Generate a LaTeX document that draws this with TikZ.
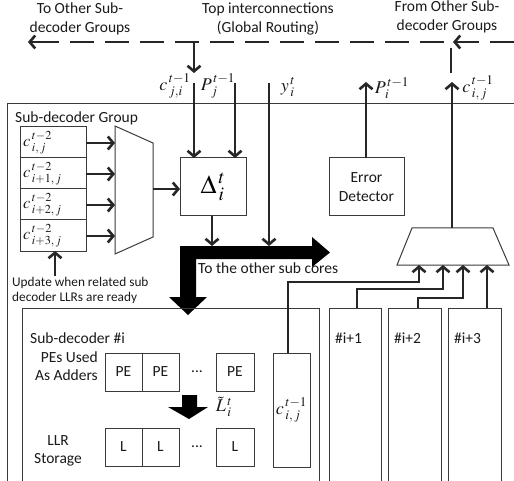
\documentclass[tikz,border=0pt]{standalone}
\usepackage{mathptmx}
\usepackage{fontspec}
\setmainfont{Carlito}
\usetikzlibrary{arrows.meta}
\definecolor{boxc}{HTML}{3A3A3A}
\definecolor{wirec}{HTML}{262626}
\definecolor{txtc}{HTML}{1A1A1A}
\begin{document}
\begin{tikzpicture}[x=1pt,y=-1pt,
  box/.style={draw=boxc, line width=1pt, inner sep=0pt, outer sep=0pt, anchor=north west},
  frame/.style={draw=boxc, line width=1pt},
  wire/.style={draw=wirec, line width=2.6pt},
  arr/.style={wire, -{Straight Barb[length=5.5pt,width=13pt]}},
  bigarrow/.style={fill=black, draw=none},
  txt/.style={font=\fontsize{15.5}{18.5}\selectfont, text=txtc, inner sep=0pt, align=center},
  smalltxt/.style={font=\fontsize{13.3}{15}\selectfont, text=txtc, inner sep=0pt, anchor=west},
  mlab/.style={font=\fontsize{18}{20}\selectfont, text=txtc, inner sep=0pt},
  rlab/.style={font=\fontsize{16.5}{18}\selectfont, text=txtc, inner sep=0pt, anchor=west},
]
\useasboundingbox (0,0) rectangle (514,481);

% ---------- top texts ----------
\node[txt] (tother) at (80,19) {To Other Sub-\\decoder Groups};
\node[txt] (ttop) at (268,19) {Top interconnections\\(Global Routing)};
\node[txt] (tfrom) at (447,17) {From Other Sub-\\decoder Groups};

% ---------- global routing dashed line ----------
\coordinate (dR) at (514,42);
\coordinate (dM) at (40,42);
\coordinate (dL) at (28,42);
\draw[wire, dash pattern=on 24pt off 11pt] (dR) -- (dM);
\draw[arr] (dM) -- (dL);
\coordinate (mA) at (463,42);
\coordinate (mB) at (453,42);
\draw[arr] (mA) -- (mB);
\coordinate (dropT) at (194,42);
\coordinate (dropB) at (194,73);
\draw[arr] (dropT) -- (dropB);
\coordinate (upT) at (451,48);
\coordinate (upB) at (451,73);
\draw[wire] (upT) -- (upB);

% ---------- outer group frame ----------
\coordinate (gBL) at (7,481);
\coordinate (gTL) at (7,104);
\coordinate (gTR) at (514,104);
\draw[frame] (gBL) -- (gTL) -- (gTR);
\node[txt, anchor=west] (glab) at (15,118) {Sub-decoder Group};

% ---------- registers ----------
\node[box, minimum width=66pt, minimum height=31pt] (r0) at (20,127) {};
\node[box, minimum width=66pt, minimum height=31pt] (r1) at (20,158) {};
\node[box, minimum width=66pt, minimum height=31pt] (r2) at (20,189) {};
\node[box, minimum width=66pt, minimum height=31pt] (r3) at (20,220) {};
\node[rlab] at ([xshift=3pt]r0.west) {$c_{\,i,\,j}^{\,t-2}$};
\node[rlab] at ([xshift=3pt]r1.west) {$c_{\,i+1,\,j}^{\,t-2}$};
\node[rlab] at ([xshift=3pt]r2.west) {$c_{\,i+2,\,j}^{\,t-2}$};
\node[rlab] at ([xshift=3pt]r3.west) {$c_{\,i+3,\,j}^{\,t-2}$};

% ---------- left mux ----------
\coordinate (m1a) at (115,126);
\coordinate (m1b) at (153,143);
\coordinate (m1c) at (153,237);
\coordinate (m1d) at (115,254);
\draw[frame] (m1a) -- (m1b) -- (m1c) -- (m1d) -- cycle;
\foreach \r/\y in {r0/143,r1/174,r2/205,r3/236}{
  \coordinate (mi\r) at (115,\y);
  \draw[arr] (\r.east |- mi\r) -- (mi\r);
}
\coordinate (m1out) at (153,189);

% ---------- delta box ----------
\node[box, minimum width=66pt, minimum height=58pt] (delta) at (180,158) {};
\node[font=\fontsize{26}{28}\selectfont, inner sep=0pt] at (delta.center) {$\Delta_{\,i}^{\,t}$};
\draw[arr] (m1out) -- (m1out -| delta.west);

% ---------- update arrow + text ----------
\coordinate (updB) at (55,276);
\draw[arr] (updB) -- (r3.south -| updB);
\node[smalltxt] (upd1) at (12,283) {Update when related sub};
\node[smalltxt] (upd2) at (12,298) {decoder LLRs are ready};

% ---------- error detector ----------
\node[box, minimum width=75pt, minimum height=58pt] (err) at (329,158) {};
\node[txt] at (err.center) {Error\\Detector};

% ---------- right mux ----------
\coordinate (m2a) at (412,228);
\coordinate (m2b) at (493,228);
\coordinate (m2c) at (509,265);
\coordinate (m2d) at (397,265);
\draw[frame] (m2a) -- (m2b) -- (m2c) -- (m2d) -- cycle;

% ---------- vertical signal lines ----------
\coordinate (cjiT) at (194,83);
\coordinate (pjT) at (235,83);
\coordinate (yiT) at (269,83);
\coordinate (yiB) at (269,246);
\coordinate (dOut) at (212,246);
\coordinate (piT) at (366,82);
\coordinate (cijT) at (452,82);
\draw[arr] (cjiT) -- (cjiT |- delta.north);
\draw[arr] (pjT) -- (pjT |- delta.north);
\draw[arr] (yiT) -- (yiB);
\draw[arr] (dOut |- delta.south) -- (dOut);
\draw[arr] (piT |- err.north) -- (piT);
\draw[arr] (cijT |- m2a) -- (cijT);
\node[mlab] (lcji) at (175,86) {$c_{\,j,i}^{\,t-1}$};
\node[mlab] (lpj) at (218,86) {$P_{\,j}^{\,t-1}$};
\node[mlab] (lyi) at (288,87) {$y_{\,i}^{\,t}$};
\node[mlab] (lpi) at (392,88) {$P_{\,i}^{\,t-1}$};
\node[mlab] (lcij) at (478,88) {$c_{\,i,\,j}^{\,t-1}$};

% ---------- big L arrow ----------
\fill[bigarrow] (180,246) -- (312,246) -- (312,237) -- (330,252.5) -- (312,267) -- (312,259)
  -- (196,259) -- (196,297) -- (207,297) -- (188,315) -- (169,297) -- (180,297) -- cycle;
\node[txt, anchor=west] (tosub) at (198,268) {To the other sub cores};

% ---------- sub-decoder #i ----------
\coordinate (sBL) at (22,481);
\coordinate (sTL) at (22,308);
\coordinate (sTR) at (319,308);
\coordinate (sBR) at (319,481);
\draw[frame] (sBL) -- (sTL) -- (sTR) -- (sBR);
\node[txt, anchor=west] at (30,338) {Sub-decoder \#i};
\node[txt, align=right, anchor=east] at (98,366) {PEs Used\\As Adders};
\node[txt] at (58,451) {LLR\\Storage};

\node[box, minimum width=37pt, minimum height=38pt] (pe1) at (105,353) {};
\node[box, minimum width=37pt, minimum height=38pt] (pe2) at (142,353) {};
\node[box, minimum width=38pt, minimum height=38pt] (pe3) at (216,353) {};
\node[txt] at (pe1.center) {PE};
\node[txt] at (pe2.center) {PE};
\node[txt] at (pe3.center) {PE};
\node[txt] at (197,372) {...};

\node[box, minimum width=37pt, minimum height=38pt] (l1) at (105,428) {};
\node[box, minimum width=37pt, minimum height=38pt] (l2) at (142,428) {};
\node[box, minimum width=38pt, minimum height=38pt] (l3) at (216,428) {};
\node[txt] at (l1.center) {L};
\node[txt] at (l2.center) {L};
\node[txt] at (l3.center) {L};
\node[txt] at (197,447) {...};

\fill[bigarrow] (182,395) -- (197,395) -- (197,407) -- (208,407) -- (189,419) -- (168,407) -- (182,407) -- cycle;
\node[mlab] (ltil) at (224,407) {$\tilde{L}_{\,i}^{\,t}$};

\node[box, minimum width=37pt, minimum height=114pt] (cbox) at (273,353) {};
\node[mlab] at (cbox.center) {$c_{\,i,\,j}^{\,t-1}$};

% ---------- other sub-decoders ----------
\foreach \n/\xl/\xr in {1/329/381,2/388/441,3/448/501}{
  \coordinate (o\n BL) at (\xl,481);
  \coordinate (o\n TL) at (\xl,308);
  \coordinate (o\n TR) at (\xr,308);
  \coordinate (o\n BR) at (\xr,481);
  \draw[frame] (o\n BL) -- (o\n TL) -- (o\n TR) -- (o\n BR);
  \node[txt, anchor=west] at (\xl+6,338) {\#i+\n};
}

% ---------- wires to right mux ----------
\coordinate (w1s) at (288,353);
\coordinate (w1a) at (288,282);
\coordinate (w1b) at (419,282);
\coordinate (w1e) at (419,265);
\draw[arr] (w1s) -- (w1a) -- (w1b) -- (w1e);
\coordinate (w2s) at (357,308);
\coordinate (w2a) at (357,289);
\coordinate (w2b) at (443,289);
\coordinate (w2e) at (443,265);
\draw[arr] (w2s) -- (w2a) -- (w2b) -- (w2e);
\coordinate (w3s) at (418,308);
\coordinate (w3a) at (418,298);
\coordinate (w3b) at (463,298);
\coordinate (w3e) at (463,265);
\draw[arr] (w3s) -- (w3a) -- (w3b) -- (w3e);
\coordinate (w4s) at (487,308);
\coordinate (w4e) at (487,265);
\draw[arr] (w4s) -- (w4e);
\end{tikzpicture}
\end{document}
